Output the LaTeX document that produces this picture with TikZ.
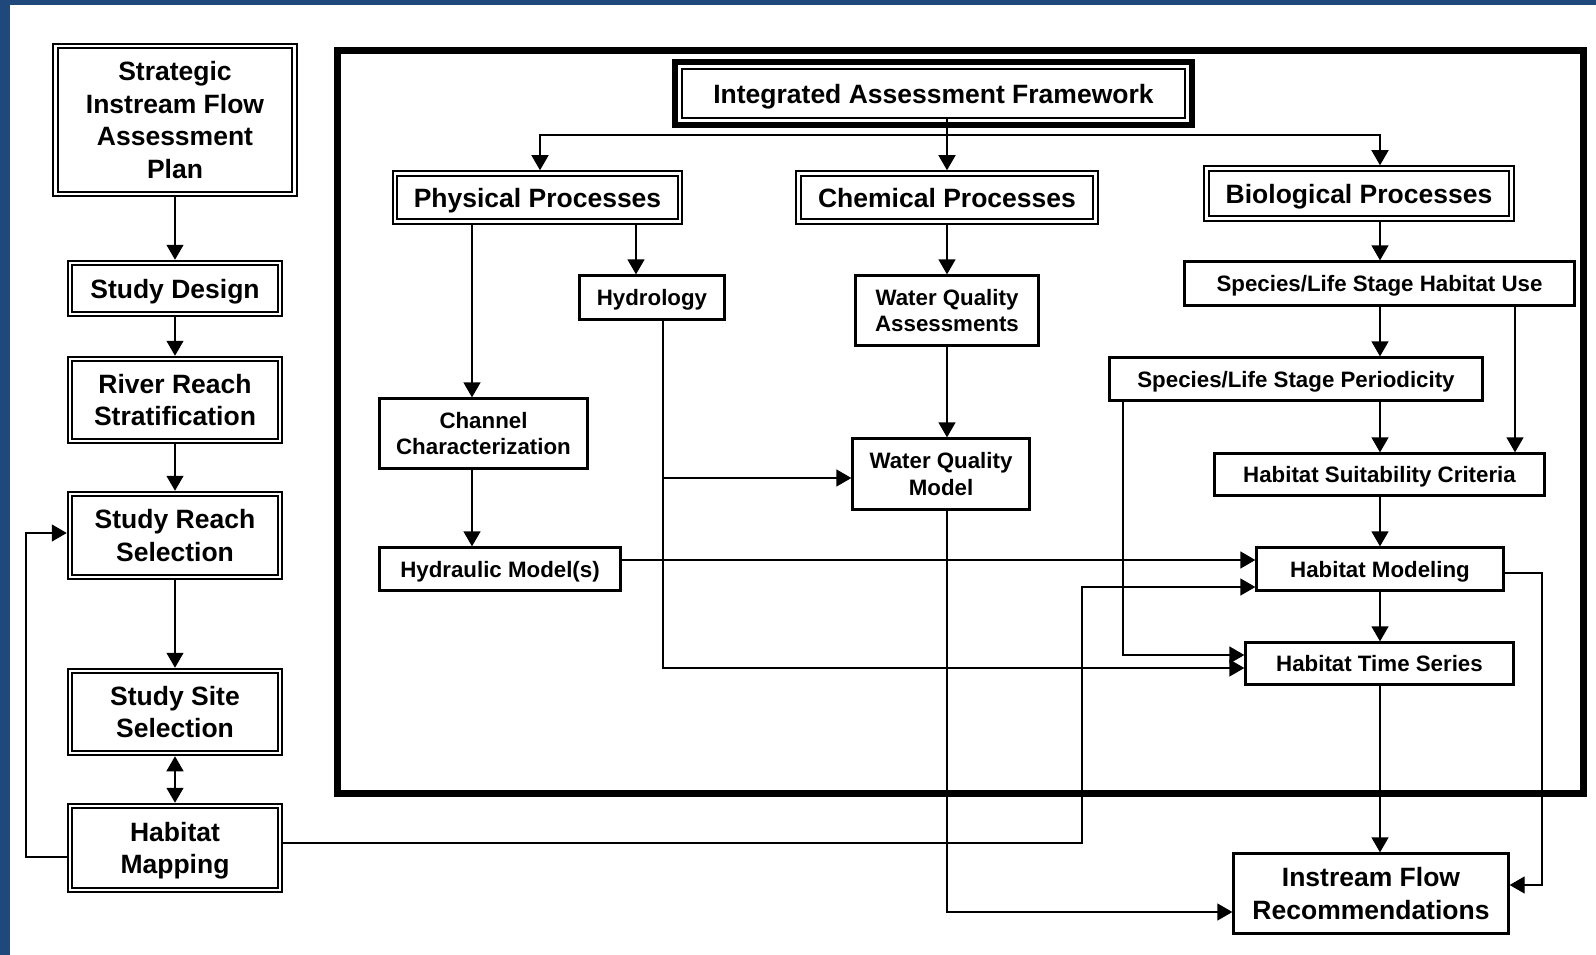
\documentclass[tikz,border=0pt]{standalone}
\usepackage{fontspec}
\setmainfont{Liberation Sans}
\usetikzlibrary{arrows.meta}
\definecolor{navy}{HTML}{1F497D}
\newcommand\bigtxt{\fontsize{26.5}{32.5}\selectfont\bfseries}
\newcommand\smltxt{\fontsize{22.3}{26.5}\selectfont\bfseries}
\tikzset{
  dbl/.style={draw, double, double distance=2.5pt, line width=2pt, inner sep=0pt, outer sep=3.25pt, font=\bigtxt, align=center, text depth=0pt},
  sgl/.style={draw, line width=2.3pt, inner sep=0pt, font=\smltxt, align=center, text depth=0pt},
  arr/.style={-{Triangle[length=15pt,width=17pt]}, line width=1.3pt},
  dblarr/.style={{Triangle[length=15pt,width=17pt]}-{Triangle[length=15pt,width=17pt]}, line width=1.3pt},
  plain/.style={line width=1.3pt},
}
\begin{document}
\begin{tikzpicture}[x=1pt,y=-1pt]
\useasboundingbox (0,0) rectangle (1596,955);
\fill[white] (0,0) rectangle (1596,955);
\fill[navy] (0,0) rectangle (1596,5);
\fill[navy] (0,0) rectangle (10,955);

% big frame
\draw[line width=7pt] (337,51) rectangle (1583,793);

% left column
\node[dbl, minimum width=239pt, minimum height=148pt] (strat) at (175,120) {Strategic\\Instream Flow\\Assessment\\Plan};
\node[dbl, minimum width=210pt, minimum height=51pt] (sdesign) at (175,288.5) {Study Design};
\node[dbl, minimum width=210pt, minimum height=82pt] (river) at (175,400) {River Reach\\Stratification};
\node[dbl, minimum width=210pt, minimum height=83pt] (sreach) at (175,535.5) {Study Reach\\Selection};
\node[dbl, minimum width=210pt, minimum height=82pt] (ssite) at (175,712) {Study Site\\Selection};
\node[dbl, minimum width=210pt, minimum height=84pt] (hmap) at (175,848) {Habitat\\Mapping};

% framework header
\node[draw, line width=2pt, inner sep=0pt, font=\bigtxt, text depth=0pt, minimum width=503pt, minimum height=49pt] (iaf) at (933.5,93.5) {Integrated Assessment Framework};
\draw[line width=6pt] ([xshift=-6pt,yshift=6pt]iaf.north west) rectangle ([xshift=6pt,yshift=-6pt]iaf.south east);

% process boxes
\node[dbl, minimum width=285pt, minimum height=48pt] (phys) at (537.5,197.5) {Physical Processes};
\node[dbl, minimum width=297pt, minimum height=48pt] (chem) at (947,197.5) {Chemical Processes};
\node[dbl, minimum width=305pt, minimum height=50pt] (bio) at (1359,193.5) {Biological Processes};

\node[sgl, minimum width=145pt, minimum height=44pt] (hydro) at (652,297.5) {Hydrology};
\node[sgl, minimum width=183pt, minimum height=70pt] (wqa) at (947,310.5) {Water Quality\\Assessments};
\node[sgl, minimum width=208pt, minimum height=70pt] (chan) at (483.5,433.5) {Channel\\Characterization};
\node[sgl, minimum width=241pt, minimum height=43pt] (hydr) at (500,569) {Hydraulic Model(s)};
\node[sgl, minimum width=177pt, minimum height=71pt] (wqm) at (941,474) {Water Quality\\Model};

\node[sgl, minimum width=390pt, minimum height=44pt] (slhu) at (1379.5,283.5) {Species/Life Stage Habitat Use};
\node[sgl, minimum width=373pt, minimum height=43pt] (slp) at (1296,379) {Species/Life Stage Periodicity};
\node[sgl, minimum width=330pt, minimum height=42pt] (hsc) at (1379.5,474.5) {Habitat Suitability Criteria};
\node[sgl, minimum width=247pt, minimum height=43pt] (hm) at (1380,569) {Habitat Modeling};
\node[sgl, minimum width=268pt, minimum height=42pt] (hts) at (1379.5,663.5) {Habitat Time Series};
\node[sgl, font=\bigtxt, minimum width=275pt, minimum height=80pt] (ifr) at (1371,893.5) {Instream Flow\\Recommendations};

% left column connectors
\draw[arr] (strat) -- (sdesign);
\draw[arr] (sdesign) -- (river);
\draw[arr] (river) -- (sreach);
\draw[arr] (sreach) -- (ssite);
\draw[dblarr] (ssite) -- (hmap);
\draw[arr] (hmap.west |- 0,857) -- (26,857) |- (sreach.west |- 0,533);

% framework connectors
\coordinate (hub) at (947,135);
\draw[plain] (iaf.south -| hub) -- (hub);
\draw[arr] (hub) -| (phys.north -| 540,0);
\draw[arr] (hub) -- (chem.north);
\draw[arr] (hub) -| (bio.north -| 1380,0);

\draw[arr] (phys.south -| 636,0) -- (hydro.north -| 636,0);
\draw[arr] (phys.south -| 472,0) -- (chan.north -| 472,0);
\draw[arr] (chan.south -| 472,0) -- (hydr.north -| 472,0);
\draw[arr] (chem) -- (wqa);
\draw[arr] (wqa.south) -- (wqm.north -| wqa.south);
\draw[arr] (hydro.south -| 663,0) |- (wqm.west |- 0,478);
\draw[arr] (hydro.south -| 663,0) |- (hts.west |- 0,668);
\draw[arr] (hydr.east |- 0,560) -- (hm.west |- 0,560);
\draw[arr] (wqm.south -| 947,0) |- (ifr.west |- 0,912);
\draw[arr] (hmap.east |- 0,843) -- (1082,843) |- (hm.west |- 0,587);

\draw[arr] (bio.south -| 1380,0) -- (slhu.north -| 1380,0);
\draw[arr] (slhu.south -| 1380,0) -- (slp.north -| 1380,0);
\draw[arr] (slhu.south -| 1515,0) -- (hsc.north -| 1515,0);
\draw[arr] (slp.south -| 1380,0) -- (hsc.north -| 1380,0);
\draw[arr] (hsc.south -| 1380,0) -- (hm.north -| 1380,0);
\draw[arr] (hm.south -| 1380,0) -- (hts.north -| 1380,0);
\draw[arr] (hts.south -| 1380,0) -- (ifr.north -| 1380,0);
\draw[arr] (slp.south -| 1123,0) |- (hts.west |- 0,655);
\draw[arr] (hm.east |- 0,573) -- (1542,573) |- (ifr.east |- 0,885);
\end{tikzpicture}
\end{document}
